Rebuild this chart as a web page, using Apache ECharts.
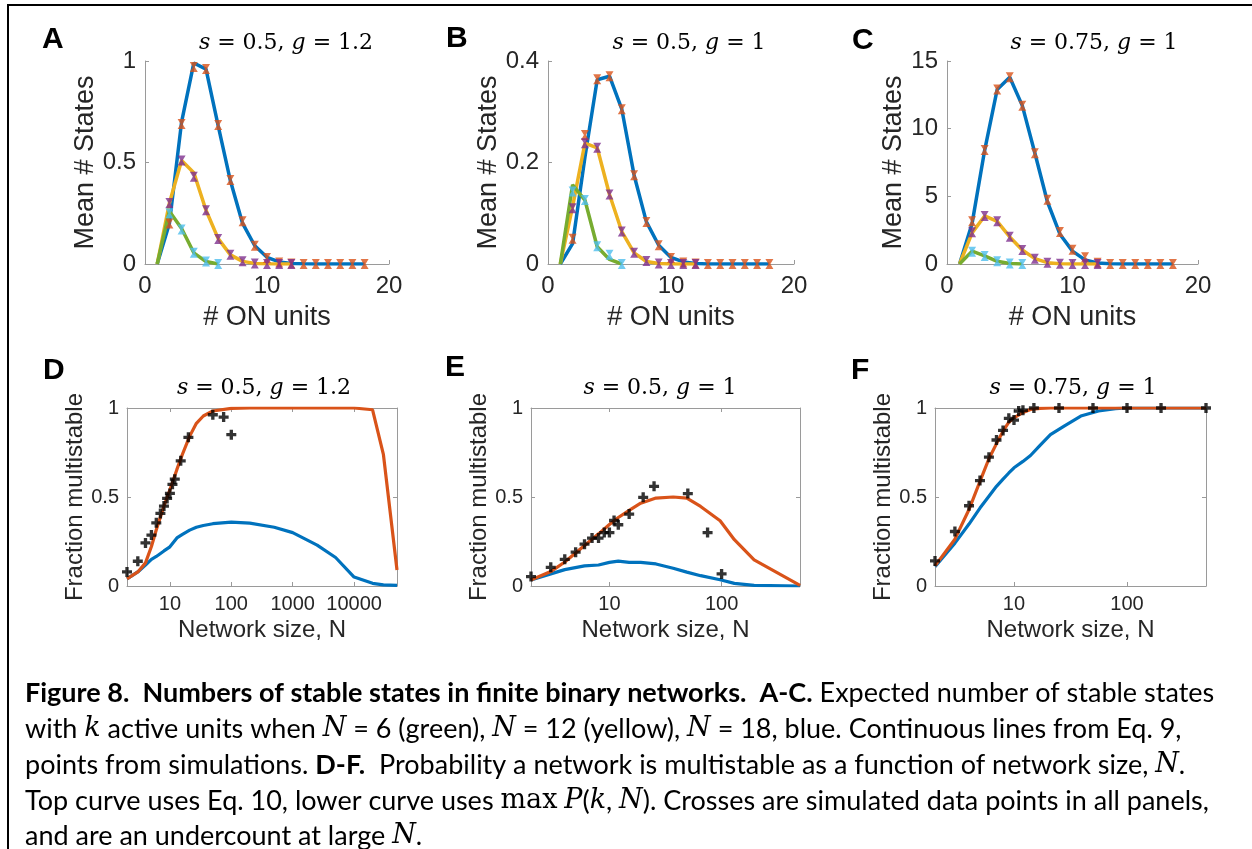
<!DOCTYPE html>
<html>
<head>
<meta charset="utf-8">
<script src="https://cdn.jsdelivr.net/npm/echarts@6/dist/echarts.min.js"></script>
<style>
html,body{margin:0;padding:0;background:#fff;}
#main{width:1252px;height:849px;}
</style>
</head>
<body>
<div id="main"></div>
<script>
// ---- A-C : mean # stable states vs # ON units (k) ----
var k18 = [1,2,3,4,5,6,7,8,9,10,11,12,13,14,15,16,17,18];
var k12 = k18.slice(0, 12);
var k6 = k18.slice(0, 6);

// A  s=0.5, g=1.2
var aLine18 = [0,0.2,0.7,0.99,0.96,0.68,0.41,0.2,0.09,0.033,0.01,0.003,0.001,0,0,0,0,0];
var aLine12 = [0,0.3,0.51,0.45,0.265,0.125,0.045,0.013,0.003,0.001,0,0];
var aLine6 = [0,0.26,0.175,0.055,0.012,0];
var aSim18 = [0.2,0.69,0.97,0.96,0.685,0.414,0.21,0.09,0.03,0.008,0.002,0,0,0,0,0,0];
var aSim12 = [0.3,0.51,0.43,0.265,0.123,0.045,0.013,0.003,0,0,0];
var aSim6 = [0.25,0.17,0.055,0.012,0];

// B  s=0.5, g=1
var bLine18 = [0,0.04,0.21,0.363,0.37,0.305,0.175,0.083,0.037,0.013,0.004,0.001,0,0,0,0,0,0];
var bLine12 = [0,0.113,0.238,0.229,0.137,0.064,0.022,0.005,0.001,0,0,0];
var bLine6 = [0,0.156,0.126,0.034,0.009,0];
var bSim18 = [0.05,0.254,0.364,0.37,0.305,0.175,0.083,0.037,0.012,0.003,0.001,0,0,0,0,0,0];
var bSim12 = [0.11,0.238,0.229,0.137,0.064,0.022,0.006,0.001,0,0,0];
var bSim6 = [0.143,0.126,0.035,0.018,0];

// C  s=0.75, g=1
var cLine18 = [0,3.0,8.4,12.9,13.8,11.7,8.2,4.6,2.2,0.95,0.3,0.08,0.02,0,0,0,0,0];
var cLine12 = [0,2.3,3.55,3.15,2.0,1.03,0.4,0.1,0.02,0,0,0];
var cLine6 = [0,0.95,0.6,0.2,0.04,0];
var cSim18 = [3.15,8.42,12.9,13.8,11.7,8.18,4.75,2.36,1.05,0.49,0.1,0,0,0,0,0,0];
var cSim12 = [2.34,3.55,3.15,2.02,1.03,0.39,0.1,0.02,0,0,0];
var cSim6 = [0.91,0.59,0.2,0.04,0];

// ---- D-F : fraction multistable vs network size N ----
var dN = [2,3,4,5,6,8,10,13,16,21,27,35,50,100,200,500,1000,2500,5000,10000,20000,30000,50000];
var dTop = [0.04,0.079,0.13,0.222,0.316,0.45,0.54,0.655,0.74,0.842,0.914,0.955,0.983,0.998,1,1,1,1,1,1,0.99,0.74,0.09];
var dMax = [0.04,0.079,0.117,0.15,0.166,0.197,0.22,0.27,0.29,0.314,0.33,0.34,0.35,0.359,0.353,0.33,0.3,0.23,0.16,0.05,0.015,0.006,0.004];
var dSimN = [2,3,4,5,6,7,8,9,10,11,12,15,20,50,75,100];
var dSim = [0.079,0.139,0.242,0.286,0.355,0.408,0.449,0.492,0.52,0.571,0.6,0.703,0.835,0.962,0.949,0.85];

var eN = [2,3,4,6,8,10,12,15,19,26,37,49,65,97,130,195,500];
var eTop = [0.034,0.081,0.135,0.228,0.293,0.345,0.385,0.425,0.465,0.494,0.5,0.494,0.447,0.367,0.26,0.147,0.004];
var eMax = [0.034,0.068,0.092,0.113,0.118,0.133,0.14,0.133,0.133,0.124,0.1,0.078,0.058,0.035,0.015,0.004,0];
var eSimN = [2,3,4,5,6,7,8,9,10,11,12,15,20,25,50,75,100];
var eSim = [0.053,0.105,0.15,0.19,0.235,0.269,0.269,0.3,0.3,0.368,0.344,0.404,0.498,0.56,0.519,0.3,0.068];

var fN = [2,3,4,5,6,7,8,9,10,12,14,17,21,28,39,56,79,100,200,500];
var fTop = [0.113,0.263,0.43,0.588,0.715,0.8,0.87,0.92,0.945,0.975,0.992,0.998,1,1,1,1,1,1,1,1];
var fMax = [0.109,0.241,0.348,0.438,0.504,0.56,0.6,0.635,0.664,0.7,0.733,0.79,0.85,0.9,0.955,0.983,0.996,1,1,1];
var fSimN = [2,3,4,5,6,7,8,9,10,11,12,15,25,50,100,200,500];
var fSim = [0.141,0.306,0.451,0.592,0.724,0.82,0.874,0.942,0.932,0.983,0.987,1,1,1,1,1,1];

var blue = '#0072BD', orange = '#D95319', yellow = '#EDB120', purple = '#7E2F8E', green = '#77AC30', cyan = '#4DBEEE';
var axisGray = '#9a9a9a', txt = '#262626', sans = 'Liberation Sans', serif = 'DejaVu Serif';
var barMark = 'path://M0,0 L8,0 L5,4 L8,8 L0,8 L3,4 Z';
var crossMark = 'path://M3,0 L6,0 L6,3 L9,3 L9,6 L6,6 L6,9 L3,9 L3,6 L0,6 L0,3 L3,3 Z';

var myChart = echarts.init(document.getElementById('main'));

function xy(xs, ys){
    var out = [];
    for (var i=0;i<ys.length;i++){
        out.push([xs[i], ys[i]]);
    }
    return out;
}
function curve(xi, xs, ys, color, w){
    return {type:'line', xAxisIndex:xi, yAxisIndex:xi, data:xy(xs, ys), symbol:'none', silent:true,
        lineStyle:{color:color, width:w}, itemStyle:{color:color}, z:2};
}
function marks(xi, xs, ys, color, sym, size){
    return {type:'scatter', xAxisIndex:xi, yAxisIndex:xi, data:xy(xs, ys), symbol:sym, symbolSize:size, silent:true,
        itemStyle:{color:color}, z:3};
}
function topX(idx){
    return {type:'value', gridIndex:idx, min:0, max:20, interval:10,
        axisLine:{onZero:false, lineStyle:{color:axisGray}},
        axisTick:{inside:true, length:4, lineStyle:{color:axisGray}},
        axisLabel:{color:txt, fontSize:24, fontFamily:sans, margin:10},
        splitLine:{show:false},
        name:'# ON units', nameLocation:'middle', nameGap:40,
        nameTextStyle:{color:txt, fontSize:27, fontFamily:sans}};
}
function topY(idx, max, interval, gap){
    return {type:'value', gridIndex:idx, min:0, max:max, interval:interval,
        axisLine:{show:true, onZero:false, lineStyle:{color:axisGray}},
        axisTick:{show:true, inside:true, length:4, lineStyle:{color:axisGray}},
        axisLabel:{color:txt, fontSize:24, fontFamily:sans, margin:9},
        splitLine:{show:false},
        name:'Mean # States', nameLocation:'middle', nameGap:gap,
        nameTextStyle:{color:txt, fontSize:27, fontFamily:sans}};
}
function logX(idx, max, mirror){
    return {type:'log', logBase:10, gridIndex:idx, min:2, max:max, position: mirror ? 'top' : 'bottom',
        axisLine:{show:true, onZero:false, lineStyle:{color:axisGray}},
        axisTick:{show:true, inside:true, length:4, lineStyle:{color:axisGray}},
        axisLabel:{show:!mirror, color:txt, fontSize:20, fontFamily:sans, margin:8,
            showMinLabel:false, showMaxLabel:false,
            formatter:function(v){ return String(v); }},
        splitLine:{show:false}, minorTick:{show:false},
        name: mirror ? '' : 'Network size, N', nameLocation:'middle', nameGap:32,
        nameTextStyle:{color:txt, fontSize:24, fontFamily:sans}};
}
function fracY(idx, mirror){
    return {type:'value', gridIndex:idx, min:0, max:1, interval:0.5, position: mirror ? 'right' : 'left',
        axisLine:{show:true, onZero:false, lineStyle:{color:axisGray}},
        axisTick:{show:true, inside:true, length:4, lineStyle:{color:axisGray}},
        axisLabel:{show:!mirror, color:txt, fontSize:20, fontFamily:sans, margin:8},
        splitLine:{show:false},
        name: mirror ? '' : 'Fraction multistable', nameLocation:'middle', nameGap:38,
        nameTextStyle:{color:txt, fontSize:24, fontFamily:sans}};
}
function label(text, x, y){
    return {type:'text', silent:true, style:{text:text, x:x, y:y, fill:'#000',
        font:'bold 30px "Liberation Sans"', fontSize:30, fontWeight:'bold', fontFamily:sans,
        align:'left', verticalAlign:'middle', textAlign:'left', textVerticalAlign:'middle'}};
}
function title(text, x, y){
    return {type:'text', silent:true, style:{text:text, x:x, y:y, fill:'#000',
        fontSize:22, fontFamily:serif, align:'center', verticalAlign:'middle',
        textAlign:'center', textVerticalAlign:'middle',
        rich:{i:{fontSize:22, fontFamily:serif, fontStyle:'italic', fill:'#000'}}}};
}
var capFont = 'Lato', capSize = 27;
var capRich = {
    b:{fontSize:capSize, fontFamily:capFont, fontWeight:'bold', fill:'#000'},
    m:{fontSize:capSize, fontFamily:serif, fontStyle:'italic', fill:'#000'},
    r:{fontSize:capSize, fontFamily:serif, fill:'#000'}
};
function capLine(text, y){
    return {type:'text', silent:true, style:{text:text, x:25, y:y, fill:'#000',
        fontSize:capSize, fontFamily:capFont, align:'left', verticalAlign:'middle',
        textAlign:'left', textVerticalAlign:'middle', rich:capRich}};
}

var option = {
    animation:false,
    backgroundColor:'#fff',
    grid:[
        {left:145, top:61, width:244, height:203, outerBoundsMode:'none'},
        {left:548, top:61, width:246, height:203, outerBoundsMode:'none'},
        {left:947, top:61, width:251, height:203, outerBoundsMode:'none'},
        {left:127, top:408, width:270, height:178, outerBoundsMode:'none'},
        {left:531, top:408, width:269, height:178, outerBoundsMode:'none'},
        {left:935, top:408, width:271, height:178, outerBoundsMode:'none'}
    ],
    xAxis:[
        topX(0), topX(1), topX(2),
        logX(3, 50000, false), logX(4, 500, false), logX(5, 500, false),
        logX(3, 50000, true), logX(4, 500, true), logX(5, 500, true)
    ],
    yAxis:[
        topY(0, 1, 0.5, 44), topY(1, 0.4, 0.2, 44), topY(2, 15, 5, 39),
        fracY(3, false), fracY(4, false), fracY(5, false),
        fracY(3, true), fracY(4, true), fracY(5, true)
    ],
    series:[
        curve(0, k18, aLine18, blue, 3.5), curve(0, k12, aLine12, yellow, 3.5), curve(0, k6, aLine6, green, 3.5),
        marks(0, k18.slice(1), aSim18, orange, barMark, [8,10]),
        marks(0, k12.slice(1), aSim12, purple, barMark, [8,10]),
        marks(0, k6.slice(1), aSim6, cyan, barMark, [8,10]),

        curve(1, k18, bLine18, blue, 3.5), curve(1, k12, bLine12, yellow, 3.5), curve(1, k6, bLine6, green, 3.5),
        marks(1, k18.slice(1), bSim18, orange, barMark, [8,10]),
        marks(1, k12.slice(1), bSim12, purple, barMark, [8,10]),
        marks(1, k6.slice(1), bSim6, cyan, barMark, [8,10]),

        curve(2, k18, cLine18, blue, 3.5), curve(2, k12, cLine12, yellow, 3.5), curve(2, k6, cLine6, green, 3.5),
        marks(2, k18.slice(1), cSim18, orange, barMark, [8,10]),
        marks(2, k12.slice(1), cSim12, purple, barMark, [8,10]),
        marks(2, k6.slice(1), cSim6, cyan, barMark, [8,10]),

        curve(3, dN, dMax, blue, 3.2), curve(3, dN, dTop, orange, 3.2),
        marks(3, dSimN, dSim, '#000', crossMark, 10),
        curve(4, eN, eMax, blue, 3.2), curve(4, eN, eTop, orange, 3.2),
        marks(4, eSimN, eSim, '#000', crossMark, 10),
        curve(5, fN, fMax, blue, 3.2), curve(5, fN, fTop, orange, 3.2),
        marks(5, fSimN, fSim, '#000', crossMark, 10)
    ],
    graphic:[
        {type:'rect', silent:true, shape:{x:8, y:5, width:1300, height:900},
            style:{fill:'none', stroke:'#000', lineWidth:2}},
        label('A', 42, 40), label('B', 446, 39), label('C', 852, 41),
        label('D', 43, 371), label('E', 445, 368), label('F', 851, 371),
        title('{i|s} = 0.5, {i|g} = 1.2', 286, 43),
        title('{i|s} = 0.5, {i|g} = 1', 689, 43),
        title('{i|s} = 0.75, {i|g} = 1', 1094, 43),
        title('{i|s} = 0.5, {i|g} = 1.2', 264, 388),
        title('{i|s} = 0.5, {i|g} = 1', 660, 388),
        title('{i|s} = 0.75, {i|g} = 1', 1073, 388),
        capLine('{b|Figure 8.  Numbers of stable states in finite binary networks.  A-C.} Expected number of stable states', 693),
        capLine('with {m|k} active units when {m|N} = 6 (green), {m|N} = 12 (yellow), {m|N} = 18, blue. Continuous lines from Eq. 9,', 729),
        capLine('points from simulations. {b|D-F.}  Probability a network is multistable as a function of network size, {m|N}.', 765),
        capLine('Top curve uses Eq. 10, lower curve uses {r|max} {m|P}({m|k}, {m|N}). Crosses are simulated data points in all panels,', 801),
        capLine('and are an undercount at large {m|N}.', 836)
    ]
};
myChart.setOption(option);
</script>
</body>
</html>
